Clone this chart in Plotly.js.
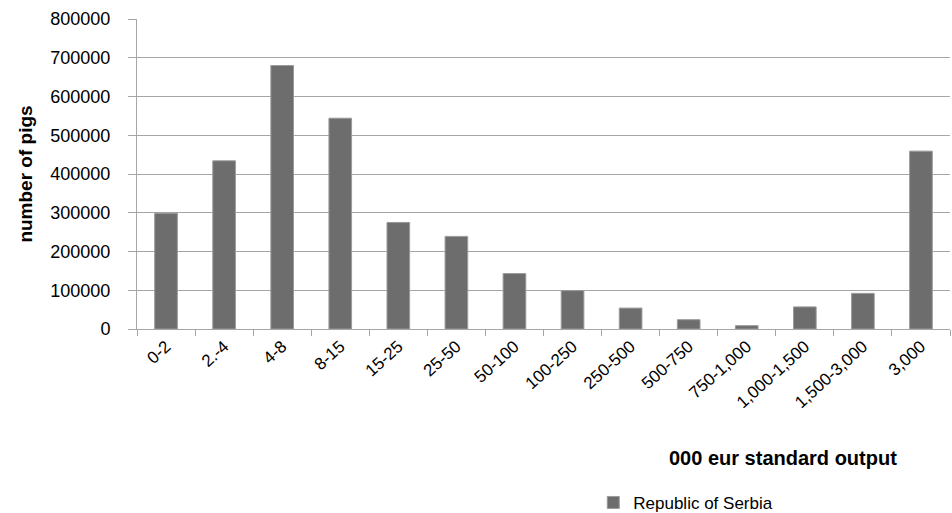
<!DOCTYPE html>
<html>
<head>
<meta charset="utf-8">
<script src="https://cdn.plot.ly/plotly-3.0.1.min.js"></script>
<style>html,body{margin:0;padding:0;background:#fff;}#chart{width:952px;height:513px;}</style>
</head>
<body>
<div id="chart"></div>
<script>
const categories = ["0-2","2.-4","4-8","8-15","15-25","25-50","50-100","100-250","250-500","500-750","750-1,000","1,000-1,500","1,500-3,000","3,000"];
const pigs = [299000, 434000, 680000, 544000, 275000, 239000, 143000, 99000, 54000, 24000, 8600, 57000, 92000, 459000];
const seriesName = "Republic of Serbia";
const yTicks = [0,100000,200000,300000,400000,500000,600000,700000,800000];

const trace = {
  type: "bar",
  x: categories,
  y: pigs,
  name: seriesName,
  width: 0.39,
  marker: {color: "#6d6d6d", line: {color: "#9a9a9a", width: 1}},
  showlegend: true
};

const layout = {
  width: 952, height: 513,
  margin: {l: 137, r: 2, t: 19, b: 184, autoexpand: false},
  paper_bgcolor: "#fff", plot_bgcolor: "#fff",
  font: {family: "Liberation Sans, Arial, sans-serif", color: "#000", size: 17},
  bargap: 0.6,
  xaxis: {
    type: "category",
    tickangle: -42,
    tickfont: {size: 17, color: "#000"},
    showline: true, linecolor: "#a6a6a6", linewidth: 1,
    ticks: "outside", ticklen: 6, tickcolor: "#a6a6a6",
    tickson: "boundaries",
    showgrid: false,
    automargin: false,
    range: [-0.5, 13.5]
  },
  yaxis: {
    range: [0, 800000],
    tickvals: yTicks,
    ticktext: yTicks.map(String),
    tickfont: {size: 18, color: "#000"},
    showgrid: true, gridcolor: "#a6a6a6", gridwidth: 1,
    showline: true, linecolor: "#a6a6a6", linewidth: 1,
    ticks: "outside", ticklen: 8, tickcolor: "#a6a6a6",
    ticklabelstandoff: 14,
    zeroline: false,
    automargin: false,
    title: {text: "<b>number of pigs</b>", font: {family: "Liberation Sans Narrow, Arial Narrow, Liberation Sans, sans-serif", size: 19, color: "#000"}, standoff: 12}
  },
  legend: {
    orientation: "h",
    x: 0.675, xanchor: "center",
    y: -0.561, yanchor: "middle",
    font: {size: 17, color: "#000"},
    itemwidth: 30
  },
  annotations: [{
    xref: "paper", yref: "paper",
    x: 0.795, y: -0.416, xanchor: "center", yanchor: "middle",
    text: "<b>000 eur standard output</b>",
    showarrow: false,
    font: {size: 20, color: "#000"}
  }]
};

Plotly.newPlot("chart", [trace], layout, {displayModeBar: false, staticPlot: true});
</script>
</body>
</html>
